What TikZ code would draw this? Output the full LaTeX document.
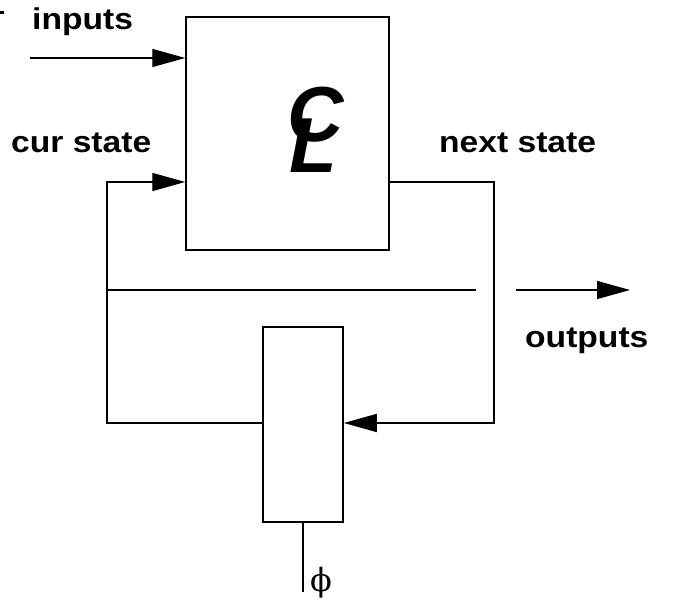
\documentclass[tikz,border=0pt]{standalone}
\usepackage{fontspec}
\setmainfont{Liberation Sans}
\newfontfamily\clkfont{DejaVu Serif}
\usepackage{graphicx}
\usetikzlibrary{arrows.meta,positioning,calc}
\tikzset{
  seq/block/.style={draw, line width=1.5pt, inner sep=0pt},
  seq/wire/.style={line width=1.4pt},
  seq/arrow/.style={seq/wire, -{Triangle[length=33pt,width=18pt]}},
  seq/label/.style={font=\fontsize{30}{34}\selectfont\bfseries, inner sep=0pt},
  seq/logic/.style={font=\fontsize{78}{80}\selectfont\bfseries\itshape, inner sep=0pt}
}
\newcommand{\wide}[1]{\scalebox{1.12}[1]{#1}}

\begin{document}
\begin{tikzpicture}[x=1pt, y=-1pt]
  \useasboundingbox (0,0) rectangle (697,609);

  % combinational block and state register
  \node[seq/block, minimum width=203pt, minimum height=233pt] (cl) at (287.5,133.5) {};
  \node[seq/block, minimum width=80pt, minimum height=195pt] (reg) at (303,424.5) {};
  \node[seq/logic] (cee) at (316,115) {C};
  \node[seq/logic] (ell) at (313,146) {L};

  % wire corners
  \coordinate (inl) at (30,58);
  \coordinate (curl) at (107,423);
  \coordinate (curu) at (107,182);
  \coordinate (nxtu) at (494,182);
  \coordinate (nxtl) at (494,423);
  \coordinate (busl) at (107,290);
  \coordinate (busr) at (476,290);
  \coordinate (outl) at (516,290);
  \coordinate (outr) at (630,290);
  \coordinate (clk) at (303,592);

  % inputs
  \draw[seq/arrow] (inl) -- (inl -| cl.west);
  % current state fed back
  \draw[seq/arrow] (reg.west |- curl) -- (curl) -- (curu) -- (curu -| cl.west);
  % next state into the register
  \draw[seq/arrow] (nxtu -| cl.east) -- (nxtu) -- (nxtl) -- (nxtl -| reg.east);
  \draw[seq/wire] (busl) -- (busr);
  \draw[seq/arrow] (outl) -- (outr);
  \draw[seq/wire] (reg.south) -- (clk);

  % labels
  \node[seq/label, anchor=base west] (inlab) at (32,30) {\wide{inputs}};
  \node[seq/label, anchor=base west] (curlab) at (11,153) {\wide{cur state}};
  \node[seq/label, anchor=base west] (nxtlab) at (439,153) {\wide{next state}};
  \node[seq/label, anchor=base west] (outlab) at (525,348) {\wide{outputs}};
  \node[font=\fontsize{32}{34}\selectfont\clkfont, inner sep=0pt] (phi) at (321,583) {ϕ};
  \fill (0,11) rectangle (4,14);
\end{tikzpicture}
\end{document}
